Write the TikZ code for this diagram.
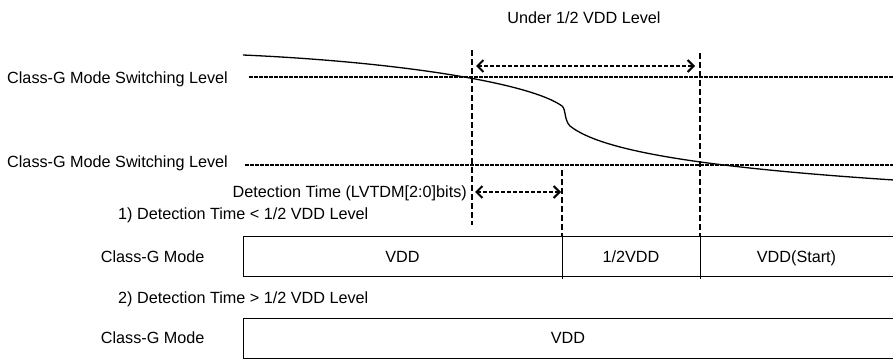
\documentclass[tikz,border=0pt]{standalone}
\usepackage{fontspec}
\setmainfont{Liberation Sans}
\usetikzlibrary{arrows.meta}
\begin{document}
\begin{tikzpicture}[x=1pt,y=-1pt,
  lbl/.style={inner sep=0pt, font=\fontsize{16.2}{18}\selectfont},
  hdash/.style={line width=2pt, dash pattern=on 3.5pt off 1.5pt},
  vdash/.style={line width=2pt, dash pattern=on 6pt off 3pt},
  adash/.style={line width=2pt, dash pattern=on 4pt off 2pt,
    {Straight Barb[length=6pt,width=12pt]}-{Straight Barb[length=6pt,width=12pt]}},
  boxline/.style={line width=1pt},
  wave/.style={line width=1.3pt}]
\useasboundingbox (0,0) rectangle (893,359);

% labels
\node[lbl, anchor=base] (under) at (584,23) {Under 1/2 VDD Level};
\node[lbl, anchor=base west] (sw1) at (7,83.3) {Class-G Mode Switching Level};
\node[lbl, anchor=base west] (sw2) at (7,167) {Class-G Mode Switching Level};
\node[lbl, anchor=base east] (det) at (467,197.5) {Detection Time (LVTDM[2:0]bits)};
\node[lbl, anchor=base west] (c1) at (118,219) {1) Detection Time < 1/2 VDD Level};
\node[lbl, anchor=base west] (m1) at (100.7,262.5) {Class-G Mode};
\node[lbl, anchor=base west] (c2) at (118,303) {2) Detection Time > 1/2 VDD Level};
\node[lbl, anchor=base west] (m2) at (100.7,343) {Class-G Mode};

% key coordinates
\coordinate (h1a) at (249,77);
\coordinate (h1b) at (893,77);
\coordinate (h2a) at (245,165);
\coordinate (h2b) at (893,165);
\coordinate (v1a) at (472,50);
\coordinate (v1b) at (472,225);
\coordinate (v2a) at (562,170);
\coordinate (v2b) at (562,236.5);
\coordinate (v3a) at (700,53);
\coordinate (v3b) at (700,236.5);
\coordinate (a1a) at (476,66);
\coordinate (a1b) at (695,66);
\coordinate (a2a) at (475,192);
\coordinate (a2b) at (561,192);

% switching levels
\draw[hdash] (h1a) -- (h1b);
\draw[hdash] (h2a) -- (h2b);

% vertical markers
\draw[vdash] (v1a) -- (v1b);
\draw[vdash] (v2a) -- (v2b);
\draw[vdash] (v3a) -- (v3b);

% arrows
\draw[adash] (a1a) -- (a1b);
\draw[adash] (a2a) -- (a2b);

% voltage curve
\draw[wave] (243,55) .. controls (400,62) and (530,83) .. (562,106)
  .. controls (566,109) and (564,120) .. (570,126)
  .. controls (600,150) and (695,167) .. (894,180);

% box 1
\coordinate (b1tl) at (243,236.7);
\coordinate (b1bl) at (243,276.7);
\draw[boxline] (894,236.7) -- (b1tl) -- (b1bl) -- (894,276.7);
\draw[boxline] (562,236.7) -- (562,278.5);
\draw[boxline] (700,236.7) -- (700,278.5);
\node[lbl, anchor=base] (t1) at (402.5,262.5) {VDD};
\node[lbl, anchor=base] (t2) at (631,262.5) {1/2VDD};
\node[lbl, anchor=base] (t3) at (796.5,262.5) {VDD(Start)};

% box 2
\coordinate (b2tl) at (243,318);
\coordinate (b2bl) at (243,358);
\draw[boxline] (894,318) -- (b2tl) -- (b2bl) -- (894,358);
\node[lbl, anchor=base] (t4) at (568,343) {VDD};
\end{tikzpicture}
\end{document}
